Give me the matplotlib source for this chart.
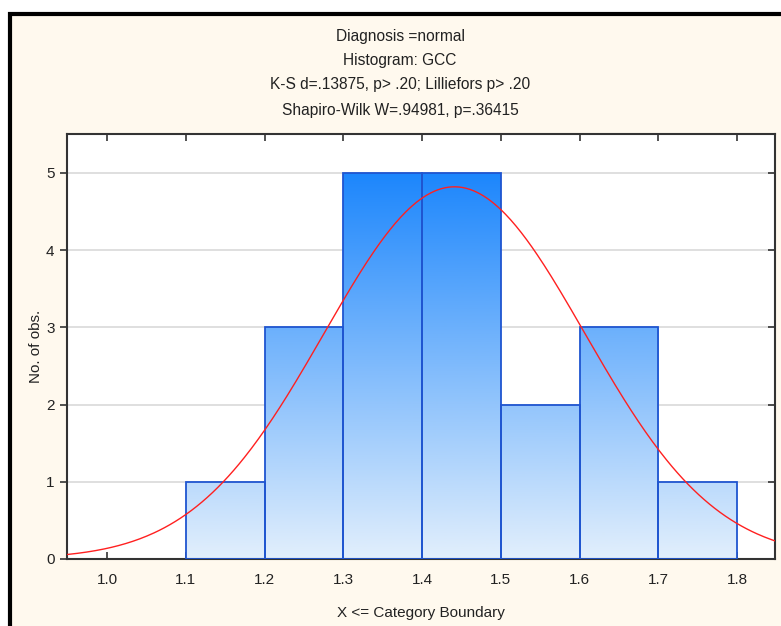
import numpy as np
import matplotlib.pyplot as plt
from matplotlib.patches import Rectangle
from matplotlib.colors import LinearSegmentedColormap

# histogram data
bin_left = [1.1, 1.2, 1.3, 1.4, 1.5, 1.6, 1.7]
counts = [1, 3, 5, 5, 2, 3, 1]
bin_width = 0.1
# fitted normal curve parameters
fit_mean = 1.441
fit_sd = 0.1655
n_obs = 20

x_ticks = [1.0, 1.1, 1.2, 1.3, 1.4, 1.5, 1.6, 1.7, 1.8]
x_ticklabels = ['1.0', '1.1', '1.2', '1.3', '1.4', '1.5', '1.6', '1.7', '1.8']
y_ticks = [0, 1, 2, 3, 4, 5]

title_lines = ['Diagnosis =normal',
               'Histogram: GCC',
               'K-S d=.13875, p> .20; Lilliefors p> .20',
               'Shapiro-Wilk W=.94981, p=.36415']

plt.rcParams['font.family'] = ['Liberation Sans', 'DejaVu Sans']

fig = plt.figure(figsize=(7.81, 6.26), dpi=100)
fig.patch.set_facecolor('white')

# cream panel with black border
panel = Rectangle((10 / 781, -0.05), 1.1, 1 - 14 / 626 + 0.05, transform=fig.transFigure,
                  facecolor='#fff9ee', edgecolor='black', linewidth=3, zorder=-5)
fig.patches.append(panel)

ax = fig.add_axes([67 / 781, 1 - 559 / 626, 708 / 781, 425 / 626])
ax.set_zorder(1)
ax.set_facecolor('white')

ax.yaxis.grid(True, color='#d9d9d9', linewidth=1.2, zorder=0)
ax.set_axisbelow(True)

# gradient fill shared across all bars
cmap = LinearSegmentedColormap.from_list('bluegrad', ['#e2effc', '#1c86fc'])
grad = np.linspace(0, 1, 256).reshape(-1, 1)
for left, c in zip(bin_left, counts):
    rect = Rectangle((left, 0), bin_width, c, facecolor='none',
                     edgecolor='#1f55d0', linewidth=1.3, zorder=3)
    ax.add_patch(rect)
    im = ax.imshow(grad, cmap=cmap, origin='lower', aspect='auto',
                   extent=[0.949, 1.848, 0, 5.0], zorder=2, interpolation='bilinear')
    im.set_clip_path(rect)
ax.set_xlim(0.949, 1.848)
ax.set_ylim(0, 5.505)

xs = np.linspace(0.949, 1.848, 400)
ys = n_obs * bin_width / (fit_sd * np.sqrt(2 * np.pi)) * np.exp(-0.5 * ((xs - fit_mean) / fit_sd) ** 2)
ax.plot(xs, ys, color='#ff2020', linewidth=1.0, zorder=4)

ax.set_xticks(x_ticks)
ax.set_xticklabels(x_ticklabels)
ax.set_yticks(y_ticks)
ax.tick_params(axis='x', direction='in', top=True, length=5, width=1.2, labelsize=11, pad=10, colors='#333333')
ax.tick_params(axis='y', direction='out', right=True, length=5, width=1.2, labelsize=11, pad=4, colors='#333333')
for lab in ax.get_xticklabels() + ax.get_yticklabels():
    lab.set_color('#222222')
for t in ax.yaxis.get_major_ticks():
    t.tick2line.set_marker(0)  # right ticks point inward
    t.tick2line.set_markersize(5)
for sp in ax.spines.values():
    sp.set_color('#333333')
    sp.set_linewidth(1.5)

ax.set_xlabel('X <= Category Boundary', fontsize=11, labelpad=14, color='#222222')
ax.set_ylabel('No. of obs.', fontsize=11, labelpad=2, color='#222222')

for line, ypix in zip(title_lines, [37, 60, 85, 110]):
    fig.text(400 / 781, 1 - ypix / 626, line, ha='center', va='center', fontsize=11.2, color='#222222')

fig.savefig('out.png', dpi=100, facecolor=fig.get_facecolor())
